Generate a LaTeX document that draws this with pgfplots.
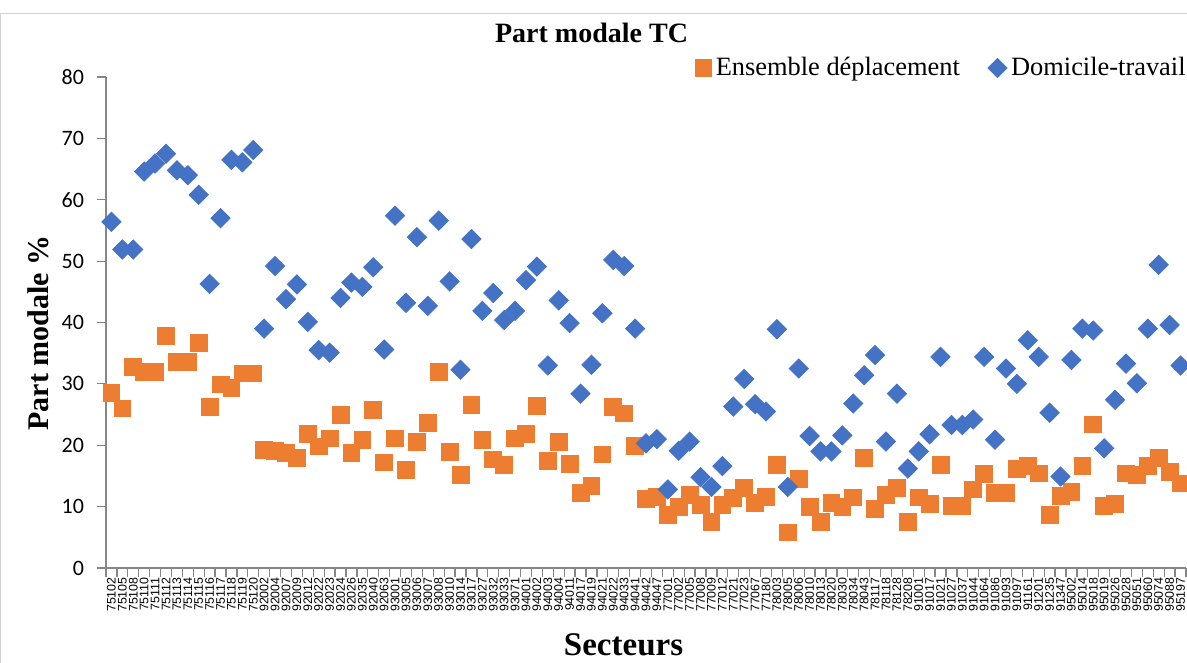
\documentclass[border=0pt]{standalone}
\usepackage{fontspec}
\setmainfont{Liberation Serif}
\newfontfamily\carlito{Carlito}
\newfontfamily\arialfont{Liberation Sans}
\usepackage{pgfplots}
\usepackage{pgfplotstable}
\pgfplotsset{compat=1.18}

\definecolor{ensorange}{HTML}{ED7D31}
\definecolor{domblue}{HTML}{4472C4}
\definecolor{axisgray}{HTML}{868686}

% part modale par secteur : i, ensemble deplacement, domicile-travail
\pgfplotstableread{
i ens dom
1 28.5 56.4
2 26.0 51.9
3 32.8 51.9
4 32.0 64.6
5 32.0 65.9
6 37.8 67.5
7 33.6 64.8
8 33.6 64.0
9 36.7 60.8
10 26.3 46.3
11 29.9 57.0
12 29.3 66.5
13 31.7 66.1
14 31.7 68.1
15 19.2 39.0
16 19.1 49.2
17 18.7 43.8
18 18.0 46.2
19 21.8 40.1
20 19.8 35.5
21 21.1 35.1
22 25.0 44.0
23 18.8 46.5
24 20.9 45.8
25 25.7 49.0
26 17.2 35.6
27 21.1 57.4
28 16.0 43.2
29 20.6 53.9
30 23.7 42.7
31 32.0 56.6
32 18.9 46.7
33 15.2 32.3
34 26.6 53.6
35 20.9 41.9
36 17.7 44.8
37 16.8 40.4
38 21.1 41.9
39 21.9 46.9
40 26.4 49.1
41 17.5 33.0
42 20.6 43.6
43 16.9 39.9
44 12.3 28.4
45 13.4 33.1
46 18.5 41.5
47 26.2 50.2
48 25.2 49.2
49 19.9 39.0
50 11.2 20.3
51 11.6 21.0
52 8.7 12.8
53 9.9 19.1
54 11.9 20.6
55 10.3 14.8
56 7.5 13.2
57 10.3 16.6
58 11.4 26.3
59 13.0 30.8
60 10.6 26.7
61 11.6 25.5
62 16.8 38.9
63 5.8 13.2
64 14.5 32.5
65 9.9 21.5
66 7.5 19.0
67 10.6 19.0
68 9.9 21.6
69 11.5 26.8
70 18.0 31.4
71 9.6 34.7
72 11.9 20.6
73 13.1 28.4
74 7.5 16.2
75 11.5 19.0
76 10.5 21.8
77 16.8 34.4
78 10.1 23.3
79 10.1 23.3
80 12.8 24.2
81 15.3 34.4
82 12.3 20.9
83 12.3 32.5
84 16.2 30.0
85 16.7 37.1
86 15.4 34.4
87 8.6 25.3
88 11.7 14.9
89 12.4 33.9
90 16.7 39.0
91 23.4 38.7
92 10.1 19.5
93 10.5 27.4
94 15.4 33.3
95 15.2 30.1
96 16.6 39.0
97 18.0 49.4
98 15.7 39.6
99 13.8 33.0
}\parts

\begin{document}
\begin{tikzpicture}
\path[use as bounding box] (0,0) rectangle (593.5pt,331.5pt);
\draw[gray!35, line width=0.5pt] (0.3pt,0) -- (0.3pt,324.5pt) -- (593.5pt,324.5pt);

\begin{axis}[
  at={(53pt,47.5pt)}, anchor=south west,
  scale only axis, width=540pt, height=245.5pt,
  xmin=0.5, xmax=99.5, ymin=0, ymax=80,
  axis lines*=left,
  axis line style={draw=axisgray, line width=0.6pt},
  tick style={draw=axisgray, line width=0.6pt},
  tick align=outside,
  major tick length=4.5pt,
  clip=false,
  ytick={0,10,...,80},
  yticklabel style={font=\carlito\fontsize{11}{13}\selectfont, xshift=-3pt},
  /pgf/number format/assume math mode=true,
  xtick={0.5,1.5,...,99.5},
  xticklabels={},
  extra x ticks={1,...,99},
  extra x tick labels={75102,75105,75108,75110,75111,75112,75113,75114,75115,75116,75117,75118,75119,75120,92002,92004,92007,92009,92012,92022,92023,92024,92026,92035,92040,92063,93001,93005,93006,93007,93008,93010,93014,93017,93027,93032,93033,93071,94001,94002,94003,94004,94011,94017,94019,94021,94022,94033,94041,94042,94047,77001,77002,77005,77008,77009,77012,77021,77023,77067,77180,78003,78005,78006,78010,78013,78020,78030,78034,78043,78117,78118,78128,78208,91001,91017,91021,91027,91037,91044,91064,91086,91093,91097,91161,91201,91235,91347,95002,95014,95018,95019,95026,95028,95051,95060,95074,95088,95197},
  extra x tick style={major tick length=0pt,
    xticklabel style={rotate=90, anchor=east, inner sep=1pt, xshift=-3.5pt,
      font=\arialfont\fontsize{6.2}{7}\selectfont}},
  title={Part modale TC},
  title style={font=\bfseries\fontsize{14}{16}\selectfont,
    at={(axis description cs:0.4496,1.0652)}, anchor=center, yshift=0pt},
  xlabel={Secteurs},
  xlabel style={font=\bfseries\fontsize{16.5}{18}\selectfont,
    at={(axis description cs:0.4792,-0.1568)}, anchor=center},
  ylabel={Part modale \%},
  ylabel style={font=\bfseries\fontsize{15}{17}\selectfont,
    at={(axis description cs:-0.0629,0.4786)}, anchor=center},
  legend columns=2,
  legend style={draw=none, fill=none, inner sep=0pt,
    at={(axis description cs:1.0037,1.0183)}, anchor=east,
    font=\fontsize{13.2}{15}\selectfont,
    /tikz/every even column/.style={column sep=12pt}},
  legend cell align=left,
  legend image code/.code={\draw[mark repeat=2,mark phase=2,#1]
    plot coordinates {(0pt,0pt)(4.5pt,0pt)(9pt,0pt)};},
]
\addplot[only marks, mark=square*, mark size=4.2pt, color=ensorange]
  table[x=i, y=ens] {\parts};
\addlegendentry{Ensemble déplacement}
\addplot[only marks, mark=square*, mark size=3.4pt, color=domblue,
  mark options={rotate=45}]
  table[x=i, y=dom] {\parts};
\addlegendentry{Domicile-travail}
\end{axis}
\end{tikzpicture}
\end{document}
